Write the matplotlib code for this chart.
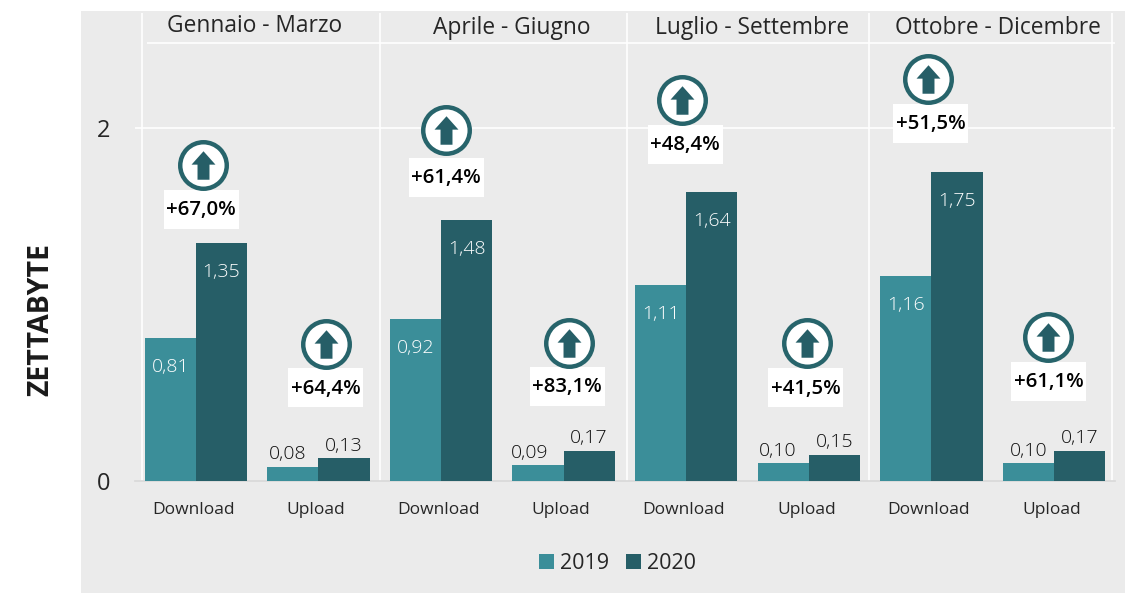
import matplotlib
matplotlib.use("Agg")
import matplotlib.pyplot as plt
from matplotlib.patches import Rectangle
from matplotlib.path import Path
from matplotlib.transforms import ScaledTranslation

plt.rcParams['font.family'] = ['Open Sans', 'DejaVu Sans']

W, H = 1125, 593
periods = ["Gennaio - Marzo", "Aprile - Giugno", "Luglio - Settembre", "Ottobre - Dicembre"]
categories = ["Download", "Upload"] * 4
values_2019 = [0.81, 0.08, 0.92, 0.09, 1.11, 0.10, 1.16, 0.10]
values_2020 = [1.35, 0.13, 1.48, 0.17, 1.64, 0.15, 1.75, 0.17]
growth = ["+67,0%", "+64,4%", "+61,4%", "+83,1%", "+48,4%", "+41,5%", "+51,5%", "+61,1%"]
label_levels = [1.539, 0.527, 1.722, 0.538, 1.908, 0.527, 2.026, 0.565]
badge_levels = [1.79, 0.776, 1.99, 0.782, 2.16, 0.782, 2.28, 0.817]
label_shift = [0.045, 0.057, 0.041, 0.029, -0.008, -0.025, -0.008, -0.041]
badge_shift = [0.061, 0.065, 0.041, 0.045, -0.033, -0.016, -0.025, -0.049]
value_nudge_2019 = [0, -3.6, 0, -6, 0, -4.3, 0, 0]

BG = "#EBEBEB"
C19 = "#3B8E99"
C20 = "#265E67"
RING = "#27646B"
TXT = "#262626"
GRID_W = 1.2

fig = plt.figure(figsize=(W / 100, H / 100), dpi=100, facecolor="white")
fig.add_artist(Rectangle((81 / W, 0), (W - 81) / W, (H - 11) / H, transform=fig.transFigure,
                         facecolor=BG, edgecolor="none", zorder=-5))

ax = fig.add_axes([135 / W, (H - 481) / H, (1115 - 135) / W, (481 - 13) / H])
ax.patch.set_alpha(0)
ax.set_xlim((135 - 195.8) / 122.6, (1115 - 195.8) / 122.6)
ax.set_ylim(0, 468 / 176.5)
for s in ax.spines.values():
    s.set_visible(False)
ax.spines['bottom'].set_visible(True)
ax.spines['bottom'].set_color("#DADADA")
ax.spines['bottom'].set_linewidth(1.3)

xs = list(range(len(categories)))
bw = 0.417
ax.bar([x - bw / 2 for x in xs], values_2019, bw, color=C19, edgecolor="none", label="2019", zorder=3)
ax.bar([x + bw / 2 for x in xs], values_2020, bw, color=C20, edgecolor="none", label="2020", zorder=3)

ax.axhline(2, color="white", lw=GRID_W, zorder=1)
ax.plot([-0.40, 7.5], [2.48, 2.48], color="white", lw=GRID_W, zorder=1, solid_capstyle="butt")
for xv in [-0.435, 1.5, 3.52, 5.495, 7.47]:
    ax.axvline(xv, color="white", lw=GRID_W, zorder=1)

ax.set_xticks(xs)
ax.set_xticklabels(categories, fontsize=12.5, color=TXT)
ax.set_yticks([0, 2])
ax.set_yticklabels(["0", "2"], fontsize=17, color=TXT)
ax.tick_params(axis='both', length=0)
ax.tick_params(axis='x', pad=15.2)
ax.tick_params(axis='y', pad=17.5)
shift = ScaledTranslation(-2.5 / 100, 0, fig.dpi_scale_trans)
for t in ax.get_xticklabels():
    t.set_transform(t.get_transform() + shift)

fmt = lambda v: f"{v:.2f}".replace(".", ",")
for x, a, b, n in zip(xs, values_2019, values_2020, value_nudge_2019):
    for off, v, dx in ((-bw / 2, a, n), (bw / 2, b, 0)):
        if v > 0.5:
            ax.annotate(fmt(v), (x + off, v), xytext=(0, -21), textcoords="offset points",
                        ha="center", va="center", color="white", fontsize=14, fontweight=300, zorder=5)
        else:
            ax.annotate(fmt(v), (x + off, v), xytext=(dx, 9), textcoords="offset points",
                        ha="center", va="center", color="#0D0D0D", fontsize=14, fontweight=300, zorder=5)

arrow = Path([(-0.42, 0.03), (0, 0.5), (0.42, 0.03), (0.21, 0.03), (0.21, -0.5), (-0.21, -0.5), (-0.21, 0.03), (-0.42, 0.03)],
             closed=True)
box_w, box_h = 75 / 122.6, 39 / 176.5
for x, g, ly, by, ls, bs in zip(xs, growth, label_levels, badge_levels, label_shift, badge_shift):
    ax.add_patch(Rectangle((x + ls - box_w / 2, ly - box_h / 2), box_w, box_h, facecolor="white",
                           edgecolor="none", zorder=6))
    ax.text(x + ls, ly - 0.004, g, ha="center", va="center", fontsize=14.7, color="black", fontweight=600, zorder=6.5)
    ax.plot([x + bs], [by], marker="o", ms=33.5, mfc="white", mec=RING, mew=3.2, zorder=7, clip_on=False)
    ax.plot([x + bs], [by], marker=arrow, ms=20.5, mfc=C20, mec=C20, mew=0, zorder=8, clip_on=False)

for i, p in enumerate(periods):
    px = [255, 512, 752.5, 997.5][i]
    fig.text(px / W, 1 - (25.5 if i == 0 else 27.5) / H, p, ha="center", va="center", fontsize=16.4, color=TXT)

fig.text(41 / W, 1 - 320 / H, "ZETTABYTE", rotation=90, ha="center", va="center",
         fontsize=20.5, fontweight="bold", color="#1A1A1A")

handles, labels = ax.get_legend_handles_labels()
leg = fig.legend(handles, labels, loc="center", bbox_to_anchor=(617.5 / W, 1 - 563.5 / H), ncol=2, frameon=False,
                 fontsize=15.5, handlelength=0.7, handleheight=0.7, handletextpad=0.28, columnspacing=0.8,
                 labelcolor=TXT)

fig.savefig("out.png", dpi=100, facecolor="white")
